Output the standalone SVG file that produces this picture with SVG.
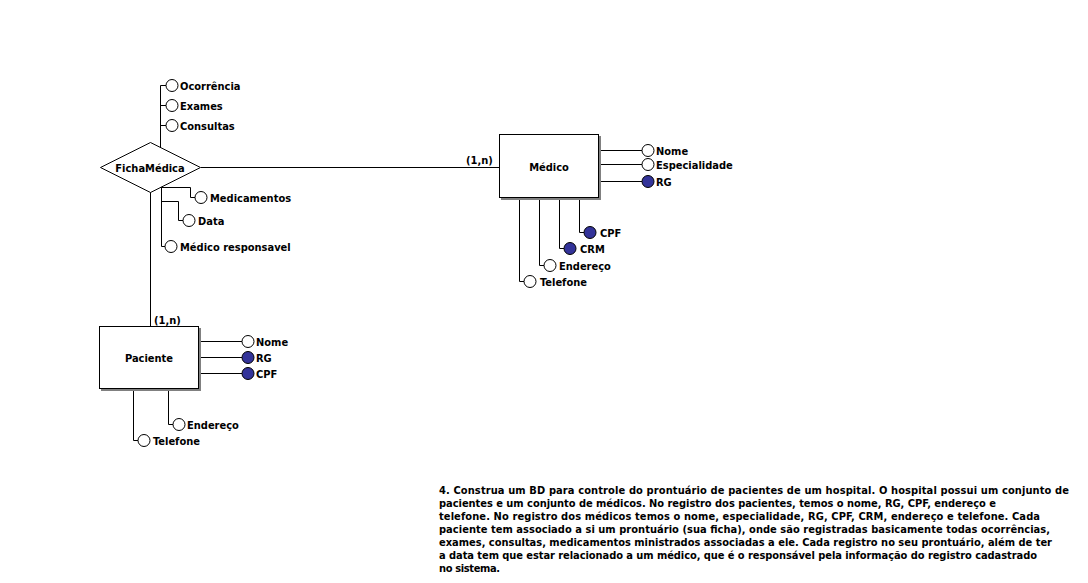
<svg xmlns="http://www.w3.org/2000/svg" width="1088" height="583" viewBox="0 0 1088 583">
<style>
text{font-family:"DejaVu Sans Condensed","DejaVu Sans",sans-serif;font-weight:bold;font-size:11px;fill:#000}
.l{stroke:#000;stroke-width:1;fill:none}
.a{fill:#fff;stroke:#000;stroke-width:1}
.k{fill:#333399;stroke:#000;stroke-width:1}
.box{fill:#fff;stroke:#000;stroke-width:1}
.sh{fill:#808080}
.c{text-anchor:middle}
</style>
<rect width="1088" height="583" fill="#fff"/>
<g id="connectors">
<path class="l" d="M201,167.5H499"/>
<path class="l" d="M150.5,192V326"/>
<path class="l" d="M160.5,147V85.5H166M160.5,105.5H166M160.5,125.5H166"/>
<path class="l" d="M161.5,186V246.5H165M161.5,187.5H190.5V197.5H195M161.5,201.5H178.5V220.5H183"/>
<path class="l" d="M598,150.5H642M598,164.5H642M598,181.5H642"/>
<path class="l" d="M579.5,199V232.5H584M559.5,199V248.5H564M539.5,199V265.5H544M519.5,199V281.5H524"/>
<path class="l" d="M198,341.5H242M198,357.5H242M198,373.5H242"/>
<path class="l" d="M168.5,390V424.5H173M133.5,390V440.5H138"/>
</g>
<g id="FichaMedica">
<polygon class="box" points="100.5,167.5 150.5,142.5 200.5,167.5 150.5,192.5"/>
<text class="c" x="150" y="172">FichaMédica</text>
</g>
<g id="Medico">
<rect class="sh" x="501" y="136" width="100" height="64"/>
<rect class="box" x="499.5" y="134.5" width="99" height="63"/>
<text class="c" x="549" y="171">Médico</text>
<text x="466" y="164">(1,n)</text>
</g>
<g id="Paciente">
<rect class="sh" x="101" y="328" width="100" height="63"/>
<rect class="box" x="99.5" y="326.5" width="99" height="62"/>
<text class="c" x="149" y="362">Paciente</text>
<text x="154" y="324">(1,n)</text>
</g>
<g id="attr-fm-ocorrencia"><circle class="a" cx="172" cy="85.5" r="6"/><text x="180" y="89.5">Ocorrência</text></g>
<g id="attr-fm-exames"><circle class="a" cx="172" cy="105.5" r="6"/><text x="180" y="109.5">Exames</text></g>
<g id="attr-fm-consultas"><circle class="a" cx="172" cy="125.5" r="6"/><text x="180" y="129.5">Consultas</text></g>
<g id="attr-fm-medicamentos"><circle class="a" cx="201" cy="197.5" r="6"/><text x="210" y="201.5">Medicamentos</text></g>
<g id="attr-fm-data"><circle class="a" cx="189" cy="220.5" r="6"/><text x="198" y="224.5">Data</text></g>
<g id="attr-fm-medresp"><circle class="a" cx="171" cy="246.5" r="6"/><text x="180" y="250.5">Médico responsavel</text></g>
<g id="attr-med-nome"><circle class="a" cx="648" cy="150.5" r="6"/><text x="656" y="154.5">Nome</text></g>
<g id="attr-med-esp"><circle class="a" cx="648" cy="164.5" r="6"/><text x="656" y="168.5">Especialidade</text></g>
<g id="attr-med-rg"><circle class="k" cx="648" cy="181.5" r="6"/><text x="656" y="185.5">RG</text></g>
<g id="attr-med-cpf"><circle class="k" cx="590" cy="232.5" r="6"/><text x="600" y="236.5">CPF</text></g>
<g id="attr-med-crm"><circle class="k" cx="570" cy="248.5" r="6"/><text x="580" y="252.5">CRM</text></g>
<g id="attr-med-end"><circle class="a" cx="550" cy="265.5" r="6"/><text x="559" y="269.5">Endereço</text></g>
<g id="attr-med-tel"><circle class="a" cx="530" cy="281.5" r="6"/><text x="540" y="285.5">Telefone</text></g>
<g id="attr-pac-nome"><circle class="a" cx="248" cy="341.5" r="6"/><text x="256" y="345.5">Nome</text></g>
<g id="attr-pac-rg"><circle class="k" cx="248" cy="357.5" r="6"/><text x="256" y="361.5">RG</text></g>
<g id="attr-pac-cpf"><circle class="k" cx="248" cy="373.5" r="6"/><text x="256" y="377.5">CPF</text></g>
<g id="attr-pac-end"><circle class="a" cx="179" cy="424.5" r="6"/><text x="187" y="428.5">Endereço</text></g>
<g id="attr-pac-tel"><circle class="a" cx="144" cy="440.5" r="6"/><text x="153" y="444.5">Telefone</text></g>
<g id="description">
<text x="439" y="494" textLength="630" lengthAdjust="spacing">4. Construa um BD para controle do prontuário de pacientes de um hospital. O hospital possui um conjunto de</text>
<text x="439" y="507" textLength="557" lengthAdjust="spacing">pacientes e um conjunto de médicos. No registro dos pacientes, temos o nome, RG, CPF, endereço e</text>
<text x="439" y="520" textLength="601" lengthAdjust="spacing">telefone. No registro dos médicos temos o nome, especialidade, RG, CPF, CRM, endereço e telefone. Cada</text>
<text x="439" y="533" textLength="611" lengthAdjust="spacing">paciente tem associado a si um prontuário (sua ficha), onde são registradas basicamente todas ocorrências,</text>
<text x="439" y="546" textLength="613" lengthAdjust="spacing">exames, consultas, medicamentos ministrados associadas a ele. Cada registro no seu prontuário, além de ter</text>
<text x="439" y="559" textLength="598" lengthAdjust="spacing">a data tem que estar relacionado a um médico, que é o responsável pela informação do registro cadastrado</text>
<text x="439" y="572" textLength="61" lengthAdjust="spacing">no sistema.</text>
</g>
</svg>
